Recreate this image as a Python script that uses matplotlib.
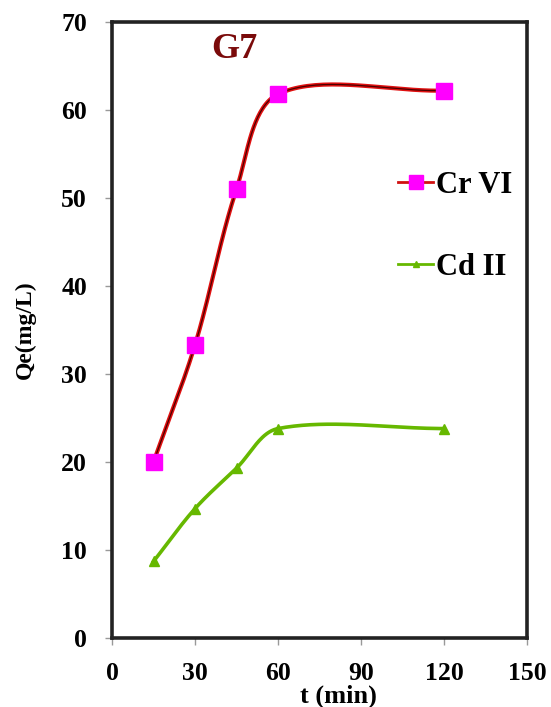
import numpy as np
import matplotlib
matplotlib.use("Agg")
import matplotlib.pyplot as plt
from matplotlib.lines import Line2D

# data
t_min = [15, 30, 45, 60, 120]
cr_vi = [20.0, 33.3, 51.0, 61.8, 62.2]
cd_ii = [8.7, 14.7, 19.3, 23.8, 23.8]


def smooth(xs, ys, sx=2.77, sy=8.8, n=40):
    # spreadsheet-like smoothed line: bezier segments with control
    # lengths proportional to neighbouring chord lengths (screen space)
    P = np.column_stack([np.asarray(xs, float) * sx, np.asarray(ys, float) * sy])
    P = np.vstack([2 * P[0] - P[1], P, 2 * P[-1] - P[-2]])
    s = np.linspace(0, 1, n)[:, None]
    pts = []
    for i in range(1, len(P) - 2):
        p0, p1, p2, p3 = P[i - 1], P[i], P[i + 1], P[i + 2]
        d01 = np.hypot(*(p1 - p0))
        d12 = np.hypot(*(p2 - p1))
        d23 = np.hypot(*(p3 - p2))
        c1 = p1 + (p2 - p0) * d12 / (d01 + d12) / 3
        c2 = p2 - (p3 - p1) * d12 / (d12 + d23) / 3
        b = ((1 - s) ** 3 * p1 + 3 * (1 - s) ** 2 * s * c1
             + 3 * (1 - s) * s ** 2 * c2 + s ** 3 * p2)
        pts.append(b)
    pts = np.vstack(pts)
    return pts[:, 0] / sx, pts[:, 1] / sy


plt.rcParams['font.family'] = ['Liberation Serif', 'DejaVu Serif']
plt.rcParams['font.weight'] = 'bold'

fig = plt.figure(figsize=(5.51, 7.07), dpi=100)
ax = fig.add_axes([112 / 551, 1 - 638 / 707, 415 / 551, 616 / 707])

cx, cy = smooth(t_min, cr_vi)
ax.plot(cx, cy, color='#e01010', lw=3.0, zorder=2)
ax.plot(cx, cy, color='#4a0000', lw=0.9, zorder=3)
ax.plot(t_min, cr_vi, ls='none', marker='s', ms=12, color='#ff00ff', zorder=4)

gx, gy = smooth(t_min, cd_ii)
ax.plot(gx, gy, color='#66b800', lw=2.6, zorder=2)
ax.plot(t_min, cd_ii, ls='none', marker='^', ms=6.5, color='#66b800', zorder=4)

ax.set_xlim(0, 150)
ax.set_ylim(0, 70)
ax.set_xticks([0, 30, 60, 90, 120, 150])
ax.set_yticks(range(0, 71, 10))
ax.tick_params(direction='out', length=5, width=1, color='#999999',
               labelsize=18.5)
ax.tick_params(axis='x', pad=12)
ax.tick_params(axis='y', pad=13)
for sp in ax.spines.values():
    sp.set_linewidth(2.6)
    sp.set_color('#222222')

ax.set_xlabel('t (min)', fontsize=19, fontweight='bold')
ax.xaxis.set_label_coords(0.545, -0.076)
ax.set_ylabel('Qe(mg/L)', fontsize=17, fontweight='bold')
ax.yaxis.set_label_coords(-0.183, 0.5)
ax.text(0.294, 0.955, 'G7', transform=ax.transAxes, fontsize=26,
        fontweight='bold', color='#7a0a0a', ha='center', va='center')

handles = [
    Line2D([], [], color='#d01010', lw=2, marker='s', ms=9.5,
           markerfacecolor='#ff00ff', markeredgecolor='#ff00ff'),
    Line2D([], [], color='#66b800', lw=2, marker='^', ms=5,
           markerfacecolor='#66b800'),
]
ax.legend(handles, ['Cr VI', 'Cd II'], loc='upper left',
          bbox_to_anchor=(0.689, 0.758), frameon=False,
          borderpad=0, borderaxespad=0,
          handlelength=1.15, handletextpad=0.08, labelspacing=1.72,
          prop={'weight': 'bold', 'size': 22})

fig.savefig('out.png', dpi=100, facecolor='white')
